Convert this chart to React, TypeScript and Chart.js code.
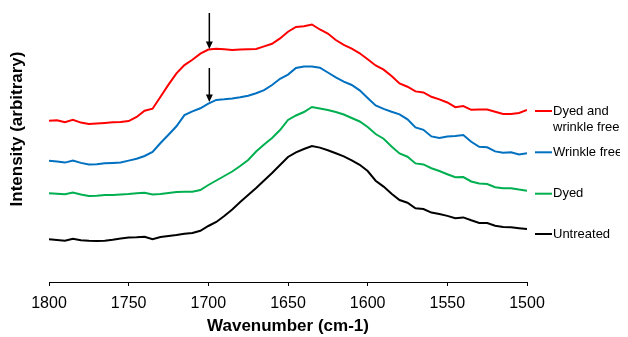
import { useEffect, useRef } from "react";
import { Chart, registerables } from "chart.js";

Chart.register(...registerables);

const wavenumbers = [
  1800, 1795, 1790, 1785, 1780, 1775, 1770, 1765, 1760, 1755, 1750,
  1745, 1740, 1735, 1730, 1725, 1720, 1715, 1710, 1705, 1700,
  1695, 1690, 1685, 1680, 1675, 1670, 1665, 1660, 1655, 1650,
  1645, 1640, 1635, 1630, 1625, 1620, 1615, 1610, 1605, 1600,
  1595, 1590, 1585, 1580, 1575, 1570, 1565, 1560, 1555, 1550,
  1545, 1540, 1535, 1530, 1525, 1520, 1515, 1510, 1505, 1500,
];

const dyedAndWrinkleFree = [
  161.3, 161.8, 159.8, 162.1, 159.4, 158.1, 158.6, 159.1, 159.7, 160, 160.9,
  165, 171.3, 173.3, 185.3, 197.4, 208.7, 216.9, 222.2, 228.3, 232.5,
  233.2, 232.7, 232, 232.5, 232.8, 233, 235.6, 238.2, 243.6, 250.3,
  255, 255.7, 257.5, 252.5, 248.5, 242, 237.2, 233.3, 228.7, 222.7,
  216.5, 212.4, 206, 198.5, 195.3, 190.6, 189.6, 185.2, 182.6, 179.5,
  174.8, 176, 172.2, 172.4, 172.4, 170.2, 168, 168, 169.1, 172,
];

const wrinkleFree = [
  121.3, 120.6, 119.4, 121.5, 119.1, 117.5, 117.7, 118.7, 119.1, 119.5, 121.4,
  123.2, 126, 130.1, 139, 147.2, 155.7, 166.9, 170.6, 173.7, 178.4,
  182.1, 182.7, 183.6, 184.8, 186.3, 188.7, 191.8, 197, 203.2, 207.4,
  214.1, 215.5, 215.5, 214.3, 209.5, 204.6, 200.4, 197, 191.6, 184,
  176.6, 173.1, 170.3, 167.7, 162.7, 154.6, 152.2, 145.6, 144.1, 145.5,
  146.1, 147, 140.2, 135.2, 134.7, 130.6, 129.3, 129.8, 127.5, 128.7,
];

const dyed = [
  88.7, 88.2, 87.7, 89.5, 87.5, 86, 86.3, 87, 87, 87.5, 88,
  88.7, 89.3, 87.5, 88, 89, 89.9, 90.2, 90.3, 92, 97,
  101.5, 106, 110.5, 116, 122, 130.5, 137.5, 144, 152, 162,
  166.5, 170, 175, 173.5, 172, 170, 167.5, 164, 160.5, 155,
  148, 143.3, 135.5, 128.5, 125.3, 118.6, 117.6, 113.8, 111, 107.8,
  104.7, 104.9, 100.5, 98.5, 98, 94.8, 93.7, 93.7, 92.4, 91.3,
];

const untreated = [
  42.7, 42.1, 41.3, 43.2, 41.7, 41.2, 40.9, 41.3, 42.2, 43.5, 44.4,
  44.7, 45.3, 42.7, 45, 46, 47, 48.2, 49, 51.2, 56,
  60, 66, 72.5, 80, 87, 94, 101.5, 109, 117, 125,
  129.7, 133, 136, 134.4, 131.7, 128.7, 125.6, 121.7, 117.2, 111,
  101.3, 95.4, 88.2, 82, 79.3, 73.7, 72.9, 69.4, 68, 66.1,
  63.8, 64.6, 61.7, 59, 58.9, 56.2, 55.1, 54.7, 53.8, 53,
];

const seriesNames = ["Dyed and wrinkle free", "Wrinkle free", "Dyed", "Untreated"];
const seriesLabelLines = [["Dyed and", "wrinkle free"], ["Wrinkle free"], ["Dyed"], ["Untreated"]];
const seriesColors = ["#FF0000", "#0070C0", "#00B050", "#000000"];
const seriesValues = [dyedAndWrinkleFree, wrinkleFree, dyed, untreated];

const xMin = 1500;
const xMax = 1800;
const xStep = 50;
const yMin = 0;
const yMax = 272;

const xTitle = "Wavenumber (cm-1)";
const yTitle = "Intensity (arbitrary)";

const arrowWavenumbers = [1700, 1700];
const arrowStart = [269, 214];
const arrowEnd = [233, 180];

const FONT = '"Liberation Sans", Arial, sans-serif';
const LABEL_NUDGE = [1, -1, 3, 5];

const annotationPlugin = {
  id: "specAnnotations",
  afterDatasetsDraw(chart: any) {
    const { ctx, chartArea } = chart;
    const xs = chart.scales.x;
    const ys = chart.scales.y;
    ctx.save();
    // arrows
    arrowWavenumbers.forEach((w, i) => {
      const px = xs.getPixelForValue(w) + 1;
      const y0 = ys.getPixelForValue(arrowStart[i]);
      const y1 = ys.getPixelForValue(arrowEnd[i]);
      ctx.strokeStyle = "#000";
      ctx.lineWidth = 1.5;
      ctx.beginPath();
      ctx.moveTo(px, y0);
      ctx.lineTo(px, y1 - 6);
      ctx.stroke();
      ctx.fillStyle = "#000";
      ctx.beginPath();
      ctx.moveTo(px - 3.5, y1 - 7.5);
      ctx.lineTo(px + 3.5, y1 - 7.5);
      ctx.lineTo(px, y1);
      ctx.closePath();
      ctx.fill();
    });
    // series labels at the end of each curve
    chart.data.datasets.forEach((ds: any, i: number) => {
      const meta = chart.getDatasetMeta(i);
      const last = meta.data[meta.data.length - 1];
      const yy = last.y + LABEL_NUDGE[i];
      const x0 = chartArea.right + 8;
      ctx.strokeStyle = ds.borderColor;
      ctx.lineWidth = 2;
      ctx.beginPath();
      ctx.moveTo(x0, yy);
      ctx.lineTo(x0 + 17, yy);
      ctx.stroke();
      ctx.fillStyle = "#000";
      ctx.font = `13px ${FONT}`;
      ctx.textBaseline = "middle";
      ctx.textAlign = "left";
      seriesLabelLines[i].forEach((line, j) => {
        ctx.fillText(line, x0 + 18, yy + j * 16);
      });
    });
    // y axis title
    ctx.translate(chartArea.left - 31.5, chartArea.top + 119);
    ctx.rotate(-Math.PI / 2);
    ctx.fillStyle = "#000";
    ctx.font = `bold 17px ${FONT}`;
    ctx.textAlign = "center";
    ctx.textBaseline = "middle";
    ctx.fillText(yTitle, 0, 0);
    ctx.restore();
  },
};

export default function App() {
  const canvasRef = useRef<HTMLCanvasElement | null>(null);

  useEffect(() => {
    if (!canvasRef.current) return;
    const chart = new Chart(canvasRef.current, {
      type: "line",
      data: {
        datasets: seriesValues.map((vals, i) => ({
          label: seriesNames[i],
          data: wavenumbers.map((w, k) => ({ x: w, y: vals[k] })),
          borderColor: seriesColors[i],
          backgroundColor: seriesColors[i],
          borderWidth: 2,
          pointRadius: 0,
          tension: 0,
          fill: false,
        })),
      },
      options: {
        animation: false,
        responsive: true,
        maintainAspectRatio: false,
        layout: { padding: { left: 41, right: 101, top: 2, bottom: 0 } },
        plugins: {
          legend: { display: false },
          tooltip: { enabled: false },
        },
        scales: {
          x: {
            type: "linear",
            min: xMin,
            max: xMax,
            reverse: true,
            ticks: {
              stepSize: xStep,
              color: "#000",
              font: { family: FONT, size: 16 },
              padding: 8,
              maxRotation: 0,
              callback: (v: any) => String(v),
            },
            grid: {
              display: true,
              drawOnChartArea: false,
              drawTicks: true,
              tickLength: 4,
              color: "#000",
              lineWidth: 1,
            },
            border: { display: true, color: "#000", width: 1 },
            title: {
              display: true,
              text: xTitle,
              color: "#000",
              font: { family: FONT, size: 17, weight: "bold" },
              padding: { top: 0, bottom: 0 },
            },
            afterFit: (scale: any) => {
              scale.height = 55;
              scale.paddingLeft = 0;
              scale.paddingRight = 0;
            },
          },
          y: {
            display: false,
            min: yMin,
            max: yMax,
          },
        },
      },
      plugins: [annotationPlugin],
    } as any);
    return () => chart.destroy();
  }, []);

  return (
    <div style={{ width: 620, height: 329, position: "relative" }}>
      <canvas ref={canvasRef} />
    </div>
  );
}
